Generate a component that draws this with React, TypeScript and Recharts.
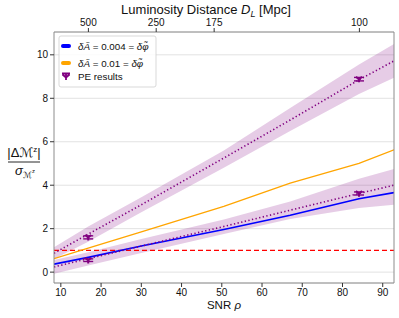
import React from 'react';
import {
  ComposedChart, Line, Area, Scatter, XAxis, YAxis, CartesianGrid,
  ReferenceLine, ErrorBar, Customized,
} from 'recharts';

// SNR sample points
const snr = [8.3, 16.8, 30, 50.5, 67, 84.1, 92.8];
// delta A = 0.004 = delta phi (blue)
const blue004 = [0.37, 0.68, 1.2, 1.96, 2.62, 3.38, 3.66];
// delta A = 0.01 = delta phi (orange)
const orange01 = [0.62, 1.1, 1.85, 3.03, 4.1, 5.0, 5.63];
// PE trend (upper) + band
const upperMid = [0.87, 1.75, 3.1, 5.25, 7.0, 8.85, 9.72];
const upperLo = [0.6, 1.4, 2.75, 4.8, 6.5, 8.2, 8.95];
const upperHi = [1.15, 2.1, 3.45, 5.6, 7.55, 9.55, 10.5];
// PE trend (lower) + band
const lowerMid = [0.24, 0.62, 1.2, 2.1, 2.85, 3.62, 4.0];
const lowerLo = [-0.08, 0.3, 0.88, 1.75, 2.45, 2.95, 3.1];
const lowerHi = [0.56, 0.92, 1.52, 2.42, 3.25, 4.3, 4.75];
// PE results
const peSnr = [16.8, 84.1, 16.8, 84.1];
const peVal = [1.6, 8.88, 0.55, 3.62];
const peErr = [0.07, 0.08, 0.06, 0.07];
// threshold
const threshold = 1;
// ticks
const xTicks = [10, 20, 30, 40, 50, 60, 70, 80, 90];
const yTicks = [0, 2, 4, 6, 8, 10];
const distTickSnr = [16.85, 33.7, 48.1, 84.2];
const distLabels = ['500', '250', '175', '100'];

const table = snr.map((s, i) => ({
  snr: s,
  blue: blue004[i],
  orange: orange01[i],
  upMid: upperMid[i],
  upBand: [upperLo[i], upperHi[i]],
  loMid: lowerMid[i],
  loBand: [lowerLo[i], lowerHi[i]],
}));
const peData = peSnr.map((s, i) => ({ snr: s, val: peVal[i], err: peErr[i] }));

const FONT = 'Liberation Sans, Arial, sans-serif';
const PURPLE = '#800080';
const FRAME = '#8c8c8c';

const PEMarker = (props: any) => {
  const { cx, cy } = props;
  if (cx == null || cy == null) return null;
  return (
    <path
      d={`M${cx - 3},${cy - 2.5} L${cx},${cy + 0.3} L${cx + 3},${cy - 2.5} M${cx},${cy + 0.3} L${cx},${cy + 3.2}`}
      stroke={PURPLE}
      strokeWidth={2}
      fill="none"
    />
  );
};

const Overlay = () => (
  <g fontFamily={FONT} fill="#111">
    <text x={206} y={14} textAnchor="middle" fontSize={13}>
      Luminosity Distance <tspan fontStyle="italic">D</tspan>
      <tspan fontSize={9} dy={3} fontStyle="italic">L</tspan>
      <tspan dy={-3}> [Mpc]</tspan>
    </text>
    <text x={224} y={309} textAnchor="middle" fontSize={11.5}>
      SNR <tspan fontStyle="italic">ρ</tspan>
    </text>
    {/* y-axis fraction label */}
    <text x={24} y={157} textAnchor="middle" fontSize={13}>
      |Δ<tspan fontFamily="DejaVu Sans">ℳ</tspan>
      <tspan fontSize={8} dy={-5}>z</tspan>
      <tspan dy={5}>|</tspan>
    </text>
    <line x1={8} x2={40} y1={162} y2={162} stroke="#111" strokeWidth={0.9} />
    <text x={25} y={175} textAnchor="middle" fontSize={13}>
      <tspan fontStyle="italic">σ</tspan>
      <tspan fontSize={8.5} dy={3} fontFamily="DejaVu Sans">ℳ</tspan>
      <tspan fontSize={6} dy={-5}>z</tspan>
    </text>
    {/* legend */}
    <rect x={59} y={36} width={97} height={51} rx={2} fill="#fff" fillOpacity={0.85} stroke="#cfcfcf" strokeWidth={0.8} />
    <line x1={63} x2={69} y1={46} y2={46} stroke="#0000ff" strokeWidth={4} strokeLinecap="round" />
    <text x={78} y={49.5} fontSize={9.8}>
      <tspan fontStyle="italic">δÃ</tspan> = 0.004 = <tspan fontStyle="italic">δφ̃</tspan>
    </text>
    <line x1={63} x2={69} y1={63} y2={63} stroke="#ffa500" strokeWidth={4} strokeLinecap="round" />
    <text x={78} y={66.5} fontSize={9.8}>
      <tspan fontStyle="italic">δÃ</tspan> = 0.01 = <tspan fontStyle="italic">δφ̃</tspan>
    </text>
    <path d="M62,73.5 L70,73.5 M66,73.5 L66,80 M62.5,74.5 L66,77.5 L69.5,74.5" stroke={PURPLE} strokeWidth={1.8} fill="none" />
    <text x={78} y={80} fontSize={9.8}>PE results</text>
  </g>
);

const tickStyle = { fill: '#111', fontSize: 10, fontFamily: FONT };

export default function App() {
  return (
    <div style={{ position: 'absolute', left: 0, top: 0, width: 399, height: 318, background: '#fff' }}>
      <ComposedChart width={399} height={318} data={table} margin={{ top: 0, right: 0, bottom: 0, left: 0 }}>
        <CartesianGrid vertical={false} stroke="#e2e2e2" strokeWidth={1} />
        <XAxis
          dataKey="snr"
          type="number"
          domain={[8.3, 92.8]}
          ticks={xTicks}
          interval={0}
          allowDataOverflow
          height={35}
          tickSize={4}
          tickMargin={2}
          tick={tickStyle}
          tickLine={{ stroke: '#333' }}
          axisLine={{ stroke: FRAME }}
        />
        <XAxis
          xAxisId="top"
          orientation="top"
          dataKey="snr"
          type="number"
          domain={[8.3, 92.8]}
          ticks={distTickSnr}
          interval={0}
          allowDataOverflow
          height={32}
          tickSize={4}
          tickMargin={2}
          tickFormatter={(v: number, i: number) => distLabels[i]}
          tick={tickStyle}
          tickLine={{ stroke: '#333' }}
          axisLine={{ stroke: FRAME }}
        />
        <YAxis
          type="number"
          domain={[-0.5, 11.05]}
          ticks={yTicks}
          interval={0}
          allowDataOverflow
          width={54}
          tickSize={4}
          tickMargin={2}
          tick={tickStyle}
          tickLine={{ stroke: '#333' }}
          axisLine={{ stroke: FRAME }}
        />
        <YAxis
          yAxisId="r"
          orientation="right"
          type="number"
          domain={[-0.5, 11.05]}
          width={5}
          tick={false}
          tickLine={false}
          axisLine={{ stroke: FRAME }}
        />
        <Area dataKey="upBand" type="linear" fill={PURPLE} fillOpacity={0.2} stroke="none" isAnimationActive={false} />
        <Area dataKey="loBand" type="linear" fill={PURPLE} fillOpacity={0.2} stroke="none" isAnimationActive={false} />
        <ReferenceLine y={threshold} stroke="#ff0000" strokeDasharray="5 3" strokeWidth={1.3} />
        <Line dataKey="orange" type="linear" stroke="#ffa500" strokeWidth={1.3} dot={false} isAnimationActive={false} />
        <Line dataKey="blue" type="linear" stroke="#0000ff" strokeWidth={1.6} dot={false} isAnimationActive={false} />
        <Line dataKey="upMid" type="linear" stroke={PURPLE} strokeWidth={1.6} strokeDasharray="1.3 2.4" dot={false} isAnimationActive={false} />
        <Line dataKey="loMid" type="linear" stroke={PURPLE} strokeWidth={1.6} strokeDasharray="1.3 2.4" dot={false} isAnimationActive={false} />
        <Scatter data={peData} dataKey="val" shape={PEMarker} isAnimationActive={false}>
          <ErrorBar dataKey="err" direction="y" width={5} stroke={PURPLE} strokeWidth={1.4} />
        </Scatter>
        <Customized component={Overlay} />
      </ComposedChart>
    </div>
  );
}
